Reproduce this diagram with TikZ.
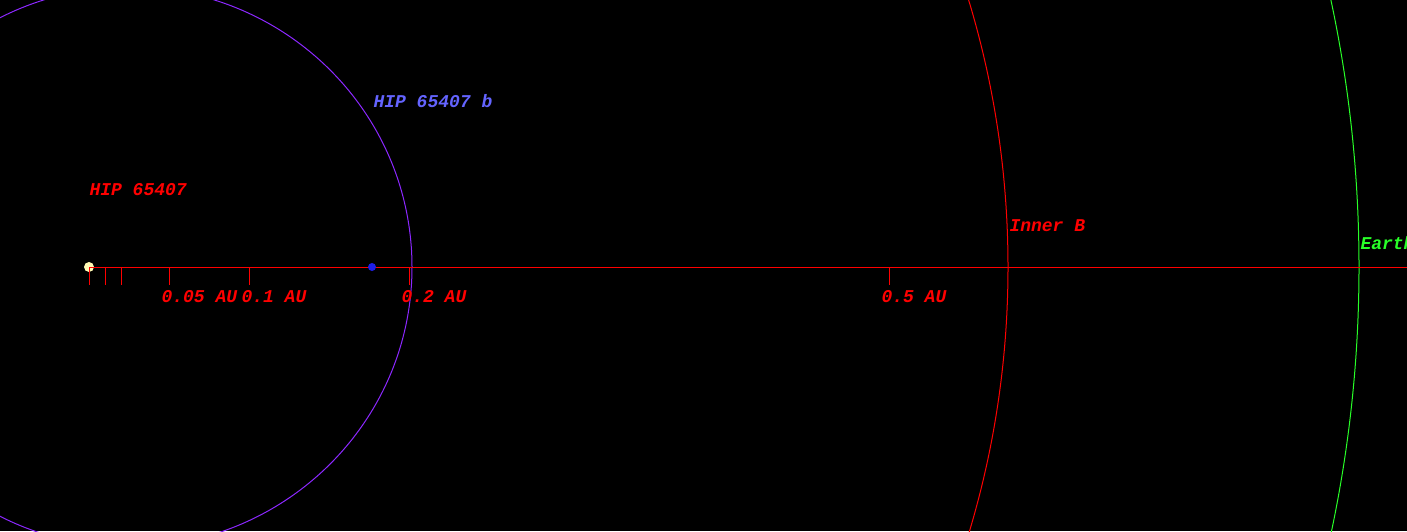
\documentclass[tikz,border=0pt]{standalone}
\usepackage{fontspec}
\newfontfamily\orbitfont{Liberation Mono}
\usetikzlibrary{positioning}
\usepackage{xcolor}
\definecolor{orbitpurple}{RGB}{140,40,255}
\definecolor{planetblue}{RGB}{30,30,230}
\definecolor{labelblue}{RGB}{100,100,255}
\definecolor{starpale}{RGB}{255,250,180}
\definecolor{earthgreen}{RGB}{40,255,40}

\tikzset{
  orbitlabel/.style={anchor=base west, inner sep=0pt, font=\orbitfont\bfseries\itshape\fontsize{18}{18}\selectfont},
  aulabel/.style={orbitlabel, text=red},
}

\begin{document}
\begin{tikzpicture}[x=1pt, y=-1pt, line width=1pt]
        \fill[black] (0,0) rectangle (1407,531);
        \useasboundingbox (0,0) rectangle (1407,531);
        \clip (0,0) rectangle (1407,531);

        % orbits
        \draw[orbitpurple] (129,267) ellipse [x radius=283pt, y radius=280pt];
        \draw[red] (89,267) circle [radius=919pt];
        \draw[earthgreen] (89,267) circle [radius=1270pt];

        % star and scale
        \node[circle, fill=starpale, inner sep=0pt, minimum size=10pt] (star) at (89,267) {};
        \coordinate (axisend) at (1407,267);
        \draw[red] (star.center) -- (axisend);
        \foreach \tx in {89,105,121,169,249,409,889}
            \draw[red] (\tx,267) -- (\tx,285);

        \node[circle, fill=planetblue, inner sep=0pt, minimum size=8pt] (planet) at (372,267) {};

        % labels
        \node[aulabel] (starname) at (89,195) {HIP 65407};
        \node[orbitlabel, text=labelblue] (planetname) at (373,107) {HIP 65407 b};
        \node[aulabel] (au005) at (161,302) {0.05 AU};
        \node[aulabel] (au01) at (241,302) {0.1 AU};
        \node[aulabel] (au02) at (401,302) {0.2 AU};
        \node[aulabel] (au05) at (881,302) {0.5 AU};
        \node[aulabel] (innerb) at (1009,231) {Inner B};
        \node[orbitlabel, text=earthgreen] (earth) at (1360,249) {Earth};
    \end{tikzpicture}
\end{document}
